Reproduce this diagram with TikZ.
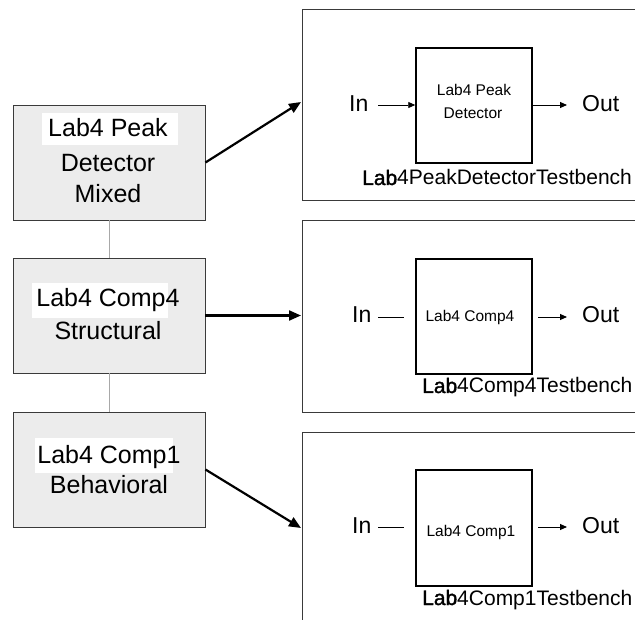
\documentclass[tikz,border=0pt]{standalone}
\usepackage{fontspec}
\setmainfont{Liberation Sans}
\newfontfamily\fbold[FakeBold=1.6]{Liberation Sans}
\usetikzlibrary{arrows.meta}
\definecolor{boxgray}{HTML}{ECECEC}
\definecolor{edgegray}{HTML}{3A3A3A}
\definecolor{linkgray}{HTML}{A8A8A8}
\begin{document}
\begin{tikzpicture}[x=1pt,y=-1pt,
  levelbox/.style={draw=edgegray, line width=0.9pt, fill=boxgray, minimum width=192pt, minimum height=115pt, inner sep=0pt},
  benchbox/.style={draw=edgegray, line width=0.9pt, minimum width=358pt, inner sep=0pt},
  unitbox/.style={draw=black, line width=1.5pt, minimum width=116pt, inner sep=0pt},
  bigtext/.style={anchor=base, inner sep=0pt, font=\fontsize{25}{30}\selectfont},
  unittext/.style={anchor=base, inner sep=0pt, font=\fontsize{15.5}{19}\selectfont},
  portext/.style={anchor=base west, inner sep=0pt, font=\fontsize{23}{27}\selectfont},
  benchtext/.style={anchor=base west, inner sep=0pt, font=\fontsize{21}{25}\selectfont},
  link/.style={draw=linkgray, line width=0.9pt},
  bigarrow/.style={draw=black, line width=2.2pt, -{Triangle[length=12pt,width=10pt]}},
  smallarrow/.style={draw=black, line width=0.9pt, -{Triangle[length=7pt,width=6pt]}},
  wire/.style={draw=black, line width=0.9pt}]
\clip (0,0) rectangle (635,620);
\fill[white] (0,0) rectangle (635,620);

% left hierarchy boxes
\node[levelbox] (m1) at (109,162.5) {};
\node[levelbox] (m2) at (109,315.5) {};
\node[levelbox] (m3) at (109,469.5) {};
\draw[link] (m1.south) -- (m2.north);
\draw[link] (m2.south) -- (m3.north);

\fill[white] (42,113) rectangle (178,145);
\fill[white] (32,283) rectangle (168,318);
\fill[white] (35,438) rectangle (173,473);

\node[bigtext] (m1a) at (108,137) {Lab4 Peak};
\node[bigtext] (m1b) at (108,172) {Detector};
\node[bigtext] (m1c) at (108,203) {Mixed};
\node[bigtext] (m2a) at (108,307) {Lab4 Comp4};
\node[bigtext] (m2b) at (108,340) {Structural};
\node[bigtext] (m3a) at (109,463) {Lab4 Comp1};
\node[bigtext] (m3b) at (109,493) {Behavioral};

% testbench boxes
\node[benchbox, minimum height=191pt] (tb1) at (481,104.5) {};
\node[benchbox, minimum height=192pt] (tb2) at (481,316) {};
\node[benchbox, minimum height=208pt] (tb3) at (481,536) {};

\node[unitbox, minimum height=115pt] (u1) at (474,105.5) {};
\node[unitbox, minimum height=115pt] (u2) at (474,316.5) {};
\node[unitbox, minimum height=116pt] (u3) at (474,528) {};

\node[unittext] (u1a) at (474,96) {Lab4 Peak};
\node[unittext] (u1b) at (473,119) {Detector};
\node[unittext] (u2a) at (470,322) {Lab4 Comp4};
\node[unittext] (u3a) at (471,536) {Lab4 Comp1};

% ports
\node[portext] (in1) at (349,112) {In};
\node[portext] (in2) at (352,323) {In};
\node[portext] (in3) at (352,533) {In};
\node[portext] (out1) at (582,112) {Out};
\node[portext] (out2) at (582,323) {Out};
\node[portext] (out3) at (582,533) {Out};

\coordinate (i1) at (378,105);
\coordinate (o1) at (567,105);
\draw[smallarrow] (i1) -- (u1.west |- i1);
\draw[smallarrow] (u1.east |- o1) -- (o1);

\coordinate (i2s) at (378,317);
\coordinate (i2e) at (404,317);
\coordinate (o2s) at (538,317);
\coordinate (o2e) at (567,317);
\draw[wire] (i2s) -- (i2e);
\draw[smallarrow] (o2s) -- (o2e);

\coordinate (i3s) at (378,527);
\coordinate (i3e) at (404,527);
\coordinate (o3s) at (538,527);
\coordinate (o3e) at (567,527);
\draw[wire] (i3s) -- (i3e);
\draw[smallarrow] (o3s) -- (o3e);

% testbench labels
\node[benchtext] (tbl1) at (362,185) {{\fbold Lab}4PeakDetectorTestbench};
\node[benchtext] (tbl2) at (422,393) {{\fbold Lab}4Comp4Testbench};
\node[benchtext] (tbl3) at (422,605) {{\fbold Lab}4Comp1Testbench};

% hierarchy arrows
\coordinate (t1) at (301,102);
\coordinate (t2) at (301,315.5);
\coordinate (t3) at (301,528);
\draw[bigarrow] (m1.east) -- (t1);
\draw[bigarrow] (m2.east) -- (t2);
\draw[bigarrow] (m3.east) -- (t3);
\end{tikzpicture}
\end{document}
